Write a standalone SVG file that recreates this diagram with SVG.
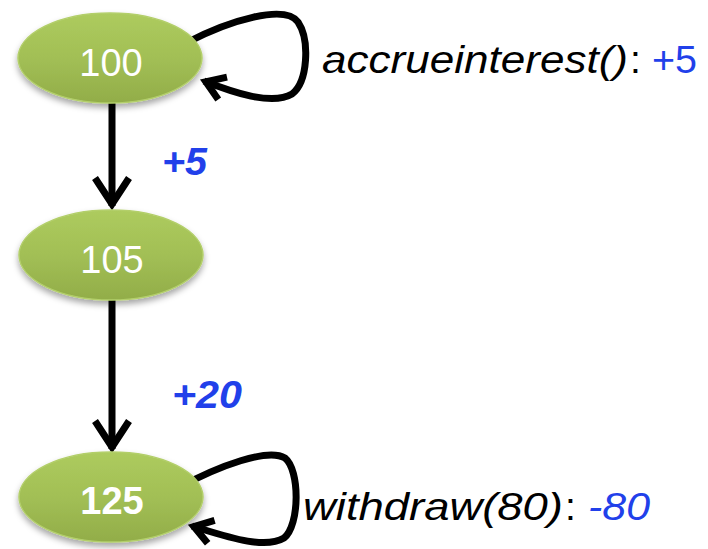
<svg xmlns="http://www.w3.org/2000/svg" width="708" height="549" viewBox="0 0 708 549">
  <defs>
    <linearGradient id="nodeFill" x1="0" y1="0" x2="0" y2="1">
      <stop offset="0" stop-color="#adcb5e"/>
      <stop offset="0.5" stop-color="#a2bf55"/>
      <stop offset="1" stop-color="#92ad49"/>
    </linearGradient>
    <filter id="shadow" x="-20%" y="-20%" width="140%" height="150%">
      <feDropShadow dx="0" dy="4" stdDeviation="3" flood-color="#000" flood-opacity="0.35"/>
    </filter>
    <marker id="arrowBig" markerUnits="userSpaceOnUse" viewBox="-34 -22 40 44" refX="0" refY="0" markerWidth="40" markerHeight="44" orient="auto">
      <path d="M-28,-17 L-2,0 L-28,17" fill="none" stroke="#000" stroke-width="7"/>
    </marker>
    <marker id="arrowSmall" markerUnits="userSpaceOnUse" viewBox="-26 -16 32 32" refX="0" refY="0" markerWidth="32" markerHeight="32" orient="auto">
      <path d="M-20,-12 L-2,0 L-20,12" fill="none" stroke="#000" stroke-width="7"/>
    </marker>
  </defs>
  <style>
    .node { fill: url(#nodeFill); stroke: #b3cf6b; stroke-width: 1.5; filter: url(#shadow); }
    .nlabel { fill: #fff; font-family: "Liberation Sans", Arial, sans-serif; font-size: 38px; text-anchor: middle; }
    .edge { fill: none; stroke: #000; stroke-width: 7; }
    .lbl { font-family: "Liberation Sans", Arial, sans-serif; font-size: 39px; fill: #000; }
    .blue { fill: #2140ea; }
    .it { font-style: italic; }
  </style>

  <rect width="708" height="549" fill="#fff"/>

  <g id="connectors">
    <path class="edge" d="M112,103 L112,206" marker-end="url(#arrowBig)"/>
    <path class="edge" d="M112,300 L112,449" marker-end="url(#arrowBig)"/>
    <path class="edge" d="M186,43 C230,20 285,4 298,22 C310,40 308,82 292,94 C272,106 232,92 204,81" marker-end="url(#arrowSmall)"/>
    <path class="edge" d="M176,489 C220,465 268,448 285,458 C300,470 300,525 284,538 C264,550 225,536 192,526" marker-end="url(#arrowSmall)"/>
  </g>

  <g id="node-100">
    <ellipse class="node" cx="110" cy="58" rx="92" ry="45"/>
    <text class="nlabel" x="111" y="76">100</text>
  </g>

  <g id="node-105">
    <ellipse class="node" cx="111" cy="255" rx="92" ry="45"/>
    <text class="nlabel" x="112" y="273">105</text>
  </g>

  <g id="node-125">
    <ellipse class="node" cx="111" cy="497" rx="92" ry="45"/>
    <text class="nlabel" x="112" y="514" font-weight="bold">125</text>
  </g>

  <g id="labels">
    <text class="lbl" y="73"><tspan class="it" x="322" textLength="306" lengthAdjust="spacingAndGlyphs">accrueinterest()</tspan><tspan x="630">:</tspan><tspan class="blue" x="652" textLength="45" lengthAdjust="spacingAndGlyphs">+5</tspan></text>
    <text class="lbl" y="520"><tspan class="it" x="303" textLength="260" lengthAdjust="spacingAndGlyphs">withdraw(80)</tspan><tspan x="565">:</tspan><tspan class="blue it" x="588" textLength="62" lengthAdjust="spacingAndGlyphs">-80</tspan></text>
    <text class="lbl blue it" x="162" y="175" font-weight="bold" textLength="45" lengthAdjust="spacingAndGlyphs">+5</text>
    <text class="lbl blue it" x="172" y="408" font-weight="bold" textLength="70" lengthAdjust="spacingAndGlyphs">+20</text>
  </g>
</svg>
